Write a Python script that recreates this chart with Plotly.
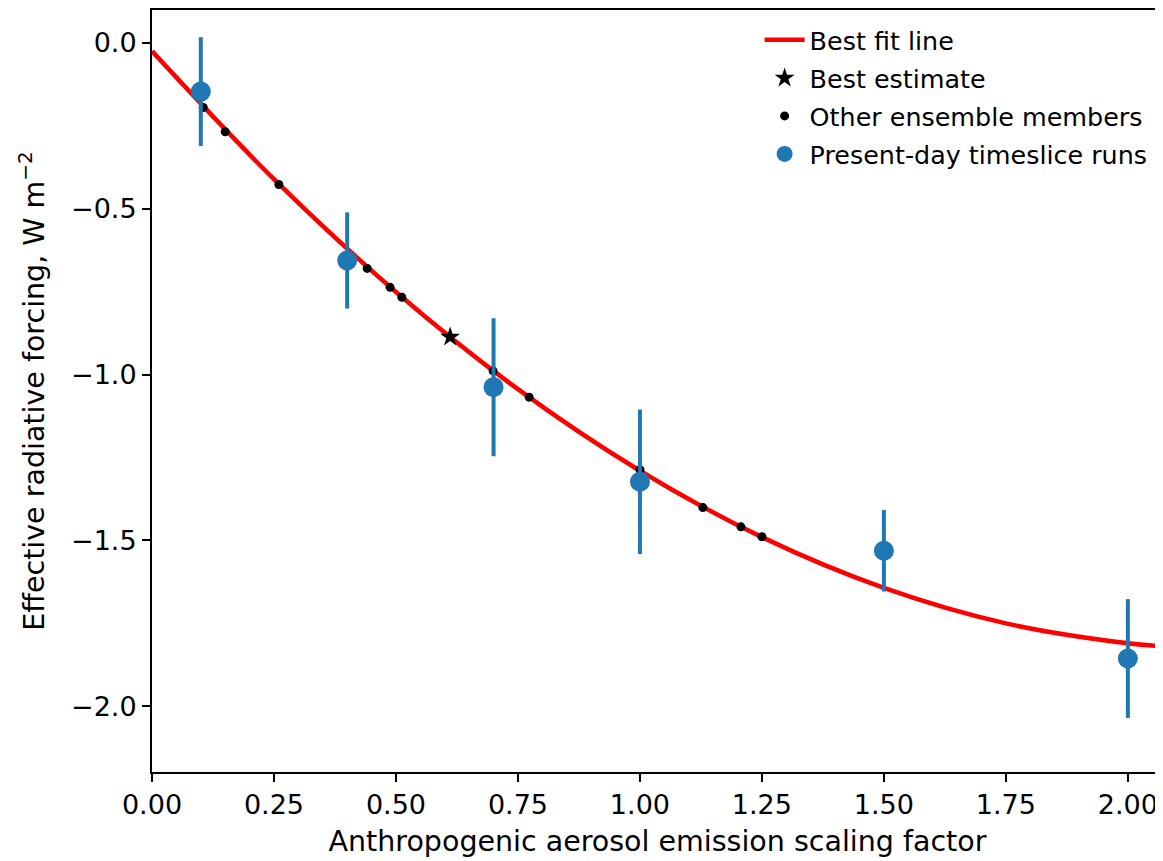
import plotly.graph_objects as go

# Best fit line
fit_x = [0.0, 0.25, 0.5, 0.75, 1.0, 1.25, 1.5, 1.75, 2.0, 2.08]
fit_y = [-0.025, -0.411, -0.751, -1.044, -1.290, -1.490, -1.643, -1.750, -1.810, -1.820]

# Best estimate
best_x = [0.611]
best_y = [-0.887]

# Other ensemble members
ens_x = [0.105, 0.150, 0.260, 0.441, 0.488, 0.512, 0.699, 0.773, 1.000, 1.129, 1.207, 1.250]
ens_y = [-0.195, -0.268, -0.427, -0.680, -0.737, -0.767, -0.989, -1.068, -1.287, -1.401, -1.459, -1.489]

# Present-day timeslice runs
ts_x = [0.1, 0.4, 0.7, 1.0, 1.5, 2.0]
ts_y = [-0.147, -0.656, -1.038, -1.323, -1.531, -1.856]
ts_err = [0.164, 0.145, 0.208, 0.218, 0.123, 0.179]

FONT = "DejaVu Sans"
TICK_FS = 27
TITLE_FS = 28.5
LEG_FS = 25.4

fig = go.Figure()
fig.add_trace(go.Scatter(x=fit_x, y=fit_y, mode="lines", name="Best fit line", legendgroup="a",
                         line=dict(color="red", width=4.5, shape="spline")))
fig.add_trace(go.Scatter(x=best_x, y=best_y, mode="markers", name="Best estimate", legendgroup="b",
                         marker=dict(symbol="star", color="black", size=15)))
fig.add_trace(go.Scatter(x=ens_x, y=ens_y, mode="markers", name="Other ensemble members",
                         legendgroup="c", marker=dict(color="black", size=9)))
fig.add_trace(go.Scatter(x=ts_x, y=ts_y, mode="markers", name="Present-day timeslice runs",
                         legendgroup="d", marker=dict(color="#1f77b4", size=20),
                         error_y=dict(type="data", array=ts_err, color="#1f77b4",
                                      thickness=4, width=0)))

fig.update_layout(
    width=1155, height=853,
    margin=dict(l=144, r=0, t=0, b=89),
    plot_bgcolor="white", paper_bgcolor="white",
    font=dict(family=FONT, size=TICK_FS, color="black"),
    showlegend=True,
    legend=dict(x=0.601, xanchor="left", y=0.991, yanchor="top",
                bgcolor="rgba(255,255,255,0)", font=dict(size=LEG_FS, family=FONT),
                tracegroupgap=2, itemwidth=40),
    xaxis=dict(range=[0, 2.072], tickvals=[0, 0.25, 0.5, 0.75, 1.0, 1.25, 1.5, 1.75, 2.0],
               tickformat=".2f", showgrid=False, zeroline=False,
               showline=True, linecolor="black", linewidth=2, mirror=True,
               ticks="outside", ticklen=8, tickwidth=2, tickcolor="black",
               tickfont=dict(size=TICK_FS, family=FONT),
               title=dict(text="Anthropogenic aerosol emission scaling factor", standoff=12,
                          font=dict(size=TITLE_FS, family=FONT))),
    yaxis=dict(range=[-2.198, 0.099], tickvals=[0.0, -0.5, -1.0, -1.5, -2.0],
               tickformat=".1f", showgrid=False, zeroline=False,
               showline=True, linecolor="black", linewidth=2, mirror=False,
               ticks="outside", ticklen=8, tickwidth=2, tickcolor="black",
               tickfont=dict(size=TICK_FS, family=FONT),
               title=dict(text="Effective radiative forcing, W m<sup>−2</sup>", standoff=18,
                          font=dict(size=TITLE_FS, family=FONT))),
)

fig.write_html("out.html")
